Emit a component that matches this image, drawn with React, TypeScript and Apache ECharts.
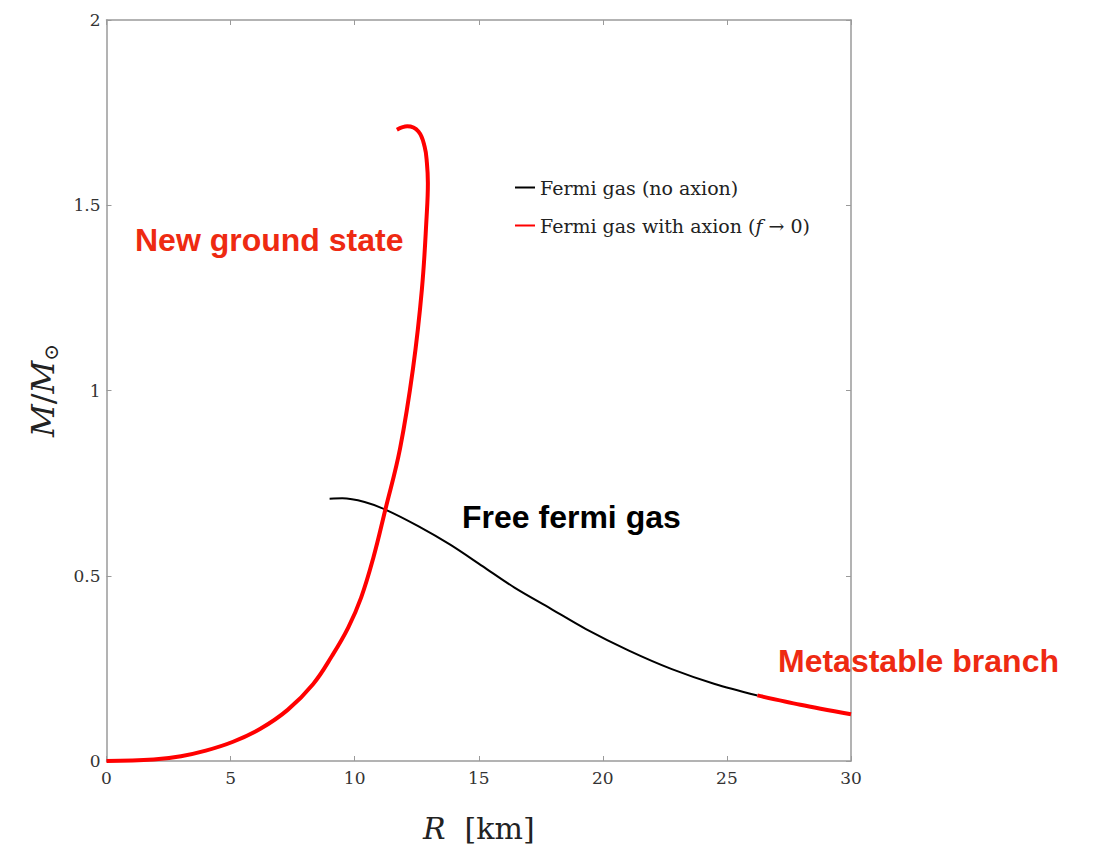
import React, { useEffect, useRef } from "react";
import * as echarts from "echarts";

const xTicks = [0, 5, 10, 15, 20, 25, 30];
const yTicks = [0, 0.5, 1, 1.5, 2];

const fermiNoAxion: [number, number][] = [
  [8.99, 0.708], [9.5, 0.709], [10.4, 0.699], [11.26, 0.678], [12.56, 0.634],
  [13.85, 0.584], [15.15, 0.526], [16.44, 0.468], [17.88, 0.412], [19.32, 0.356],
  [21.05, 0.298], [22.78, 0.248], [24.51, 0.208], [26.23, 0.177],
];

const axionGround: [number, number][] = [
  [0, 0], [1.9, 0.004], [3.0, 0.013], [4.0, 0.028], [5.1, 0.052], [6.2, 0.087],
  [7.3, 0.138], [8.33, 0.208], [9.09, 0.284], [9.74, 0.36], [10.26, 0.441],
  [10.75, 0.548], [11.23, 0.677], [11.83, 0.844], [12.35, 1.059], [12.71, 1.274],
  [12.9, 1.47], [12.95, 1.56], [12.91, 1.615], [12.82, 1.658], [12.57, 1.699],
  [12.12, 1.713], [11.7, 1.704],
];

const axionMetastable: [number, number][] = [
  [26.23, 0.177], [27.96, 0.152], [30, 0.126],
];

const NAME_BLACK = "Fermi gas (no axion)";
const NAME_RED = "Fermi gas with axion (f \u2192 0)";

const SERIF = "'DejaVu Serif', 'Liberation Serif', serif";
const SANS = "'Liberation Sans', Arial, sans-serif";
const AXIS_GRAY = "#9a9a9a";
const LABEL_RED = "#ee2a12";

export default function App() {
  const ref = useRef<HTMLDivElement>(null);
  useEffect(() => {
    if (!ref.current) return;
    const chart = echarts.init(ref.current, undefined, { renderer: "svg" });
    const axisCommon = {
      axisLine: { show: true, onZero: false, lineStyle: { color: AXIS_GRAY, width: 1.5 } },
      axisTick: { show: true, inside: true, length: 5, lineStyle: { color: AXIS_GRAY, width: 1 } },
      splitLine: { show: false },
    };
    chart.setOption({
      animation: false,
      backgroundColor: "#ffffff",
      grid: { left: 106.5, right: 245, top: 20, bottom: 84, containLabel: false },
      legend: {
        data: [NAME_BLACK, NAME_RED],
        orient: "vertical",
        left: 510,
        top: 173,
        itemWidth: 20,
        itemHeight: 2,
        itemGap: 19,
        icon: "rect",
        textStyle: {
          fontFamily: SERIF,
          fontSize: 19,
          color: "#222",
          rich: { i: { fontStyle: "italic", fontFamily: SERIF, fontSize: 19, color: "#222" } },
        },
        formatter: (name: string) =>
          name === NAME_RED ? "Fermi gas with axion ({i|f} \u2192 0)" : name,
      },
      xAxis: [
        {
          type: "value",
          min: 0,
          max: 30,
          interval: 5,
          position: "bottom",
          ...axisCommon,
          axisLabel: {
            fontFamily: SERIF,
            fontSize: 17,
            color: "#333",
            margin: 8,
            formatter: (v: number) => (xTicks.includes(v) ? String(v) : ""),
          },
          name: "{i|R}  [km]",
          nameLocation: "middle",
          nameGap: 52,
          nameTextStyle: {
            fontFamily: SERIF,
            fontSize: 30,
            color: "#222",
            rich: { i: { fontStyle: "italic", fontFamily: SERIF, fontSize: 30, color: "#222" } },
          },
        },
        {
          type: "value",
          min: 0,
          max: 30,
          interval: 5,
          position: "top",
          ...axisCommon,
          axisLabel: { show: false },
        },
      ],
      yAxis: [
        {
          type: "value",
          min: 0,
          max: 2,
          interval: 0.5,
          position: "left",
          ...axisCommon,
          axisLabel: {
            fontFamily: SERIF,
            fontSize: 17,
            color: "#333",
            margin: 6,
            formatter: (v: number) => (yTicks.includes(v) ? String(v) : ""),
          },
          name: "{i|M}{n|/}{i|M}{s|\u2299}",
          nameLocation: "middle",
          nameRotate: 90,
          nameGap: 46,
          nameTextStyle: {
            fontFamily: SERIF,
            fontSize: 32,
            color: "#222",
            rich: {
              i: { fontStyle: "italic", fontFamily: SERIF, fontSize: 32, color: "#222", lineHeight: 36 },
              n: { fontFamily: SERIF, fontSize: 32, color: "#222", lineHeight: 36 },
              s: { fontFamily: SERIF, fontSize: 20, color: "#222", lineHeight: 36, verticalAlign: "bottom", padding: [18, 0, 0, 0] },
            },
          },
        },
        {
          type: "value",
          min: 0,
          max: 2,
          interval: 0.5,
          position: "right",
          ...axisCommon,
          axisLabel: { show: false },
        },
      ],
      series: [
        {
          name: NAME_BLACK,
          type: "line",
          data: fermiNoAxion,
          showSymbol: false,
          smooth: 0.3,
          color: "#000000",
          lineStyle: { color: "#000000", width: 2 },
          z: 3,
        },
        {
          name: NAME_RED,
          type: "line",
          data: axionGround,
          showSymbol: false,
          smooth: 0.4,
          color: "#ff0000",
          lineStyle: { color: "#ff0000", width: 4 },
          z: 4,
        },
        {
          name: NAME_RED,
          type: "line",
          data: axionMetastable,
          showSymbol: false,
          smooth: 0.3,
          color: "#ff0000",
          lineStyle: { color: "#ff0000", width: 4 },
          z: 4,
        },
      ],
      graphic: [
        {
          type: "text",
          left: 135,
          top: 224,
          style: { text: "New ground state", fill: LABEL_RED, font: `bold 32px ${SANS}` },
        },
        {
          type: "text",
          left: 462,
          top: 501,
          style: { text: "Free fermi gas", fill: "#000", font: `bold 32px ${SANS}` },
        },
        {
          type: "text",
          left: 778,
          top: 645,
          z: 0,
          style: { text: "Metastable branch", fill: LABEL_RED, font: `bold 32px ${SANS}` },
        },
      ],
    });
    return () => chart.dispose();
  }, []);
  return (
    <div
      ref={ref}
      style={{ position: "fixed", left: 0, top: 0, width: 1096, height: 848, background: "#fff" }}
    />
  );
}
